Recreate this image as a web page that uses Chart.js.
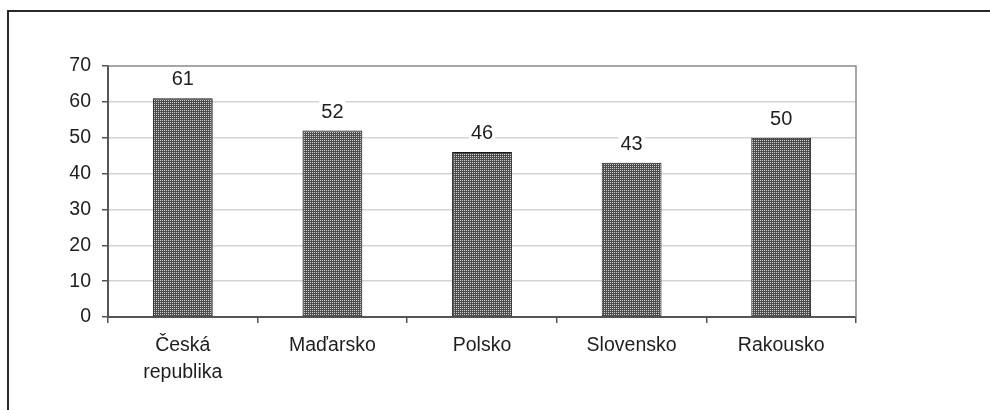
<!DOCTYPE html>
<html>
<head>
<meta charset="utf-8">
<script src="https://cdn.jsdelivr.net/npm/chart.js@4/dist/chart.umd.min.js"></script>
<style>
  html, body { margin: 0; padding: 0; background: #fff; overflow: hidden; }
  #wrap { position: relative; width: 990px; height: 410px; }
  #frame { position: absolute; left: 7px; top: 10px; width: 2000px; height: 1000px;
           border-left: 2px solid #2a2a2a; border-top: 2px solid #2a2a2a; pointer-events: none; }
</style>
</head>
<body>
<div id="wrap">
  <canvas id="c" width="990" height="410"></canvas>
  <div id="frame"></div>
</div>
<script>
const categories = [["Česká", "republika"], "Maďarsko", "Polsko", "Slovensko", "Rakousko"];
const values = [61, 52, 46, 43, 50];
const yTicks = [0, 10, 20, 30, 40, 50, 60, 70];

const FONT = "'Liberation Sans', Arial, sans-serif";

function makePattern() {
  const p = document.createElement('canvas');
  p.width = 2; p.height = 2;
  const g = p.getContext('2d');
  g.fillStyle = '#4c4c4c'; g.fillRect(0, 0, 2, 2);
  g.fillStyle = '#cfcfcf'; g.fillRect(0, 0, 1, 1);
  return g.createPattern(p, 'repeat');
}

const labelPlugin = {
  id: 'valueLabels',
  afterDatasetsDraw(chart) {
    const ctx = chart.ctx;
    const meta = chart.getDatasetMeta(0);
    ctx.save();
    ctx.font = '20px ' + FONT;
    ctx.textAlign = 'center';
    ctx.textBaseline = 'alphabetic';
    meta.data.forEach((bar, i) => {
      const txt = String(values[i]);
      const w = ctx.measureText(txt).width;
      const baseY = bar.y - 13;
      ctx.fillStyle = '#ffffff';
      ctx.fillRect(bar.x - w / 2 - 2, baseY - 18, w + 4, 22);
      ctx.fillStyle = '#1e1e1e';
      ctx.fillText(txt, bar.x, baseY);
    });
    ctx.restore();
  }
};

const borderPlugin = {
  id: 'plotBorder',
  beforeDatasetsDraw(chart) {
    const a = chart.chartArea;
    const ctx = chart.ctx;
    ctx.save();
    ctx.strokeStyle = '#8a8a8a';
    ctx.lineWidth = 1.5;
    ctx.beginPath();
    ctx.moveTo(a.left, a.top);
    ctx.lineTo(a.right, a.top);
    ctx.lineTo(a.right, a.bottom);
    ctx.stroke();
    ctx.restore();
  }
};

new Chart(document.getElementById('c'), {
  type: 'bar',
  data: {
    labels: categories,
    datasets: [{
      data: values,
      backgroundColor: makePattern(),
      borderColor: '#1a1a1a',
      borderWidth: 1,
      borderSkipped: false,
      categoryPercentage: 1.0,
      barPercentage: 0.4
    }]
  },
  options: {
    responsive: false,
    devicePixelRatio: 1,
    animation: false,
    events: [],
    layout: { padding: { top: 66, right: 134, bottom: 0, left: 0 } },
    plugins: { legend: { display: false }, tooltip: { enabled: false } },
    scales: {
      x: {
        afterFit(s) { s.height = 93; },
        grid: { drawOnChartArea: false, drawTicks: true, tickLength: 6, color: '#555', lineWidth: 1.5, offset: true },
        border: { color: '#555', width: 2 },
        ticks: { color: '#1e1e1e', font: { family: FONT, size: 19.5, lineHeight: 1.34 }, padding: 10, maxRotation: 0, autoSkip: false }
      },
      y: {
        min: 0, max: 70,
        afterFit(s) { s.width = 108; },
        afterBuildTicks(s) { s.ticks = yTicks.map(v => ({ value: v })); },
        grid: { color: (c) => (c.tick && c.tick.value === 70) ? 'rgba(0,0,0,0)' : '#d4d4d4',
                tickColor: '#555', lineWidth: 1.5, tickLength: 6, drawTicks: true },
        border: { color: '#555', width: 2 },
        ticks: { stepSize: 10, color: '#1e1e1e', font: { family: FONT, size: 19.5 }, padding: 11 }
      }
    }
  },
  plugins: [borderPlugin, labelPlugin]
});
</script>
</body>
</html>
